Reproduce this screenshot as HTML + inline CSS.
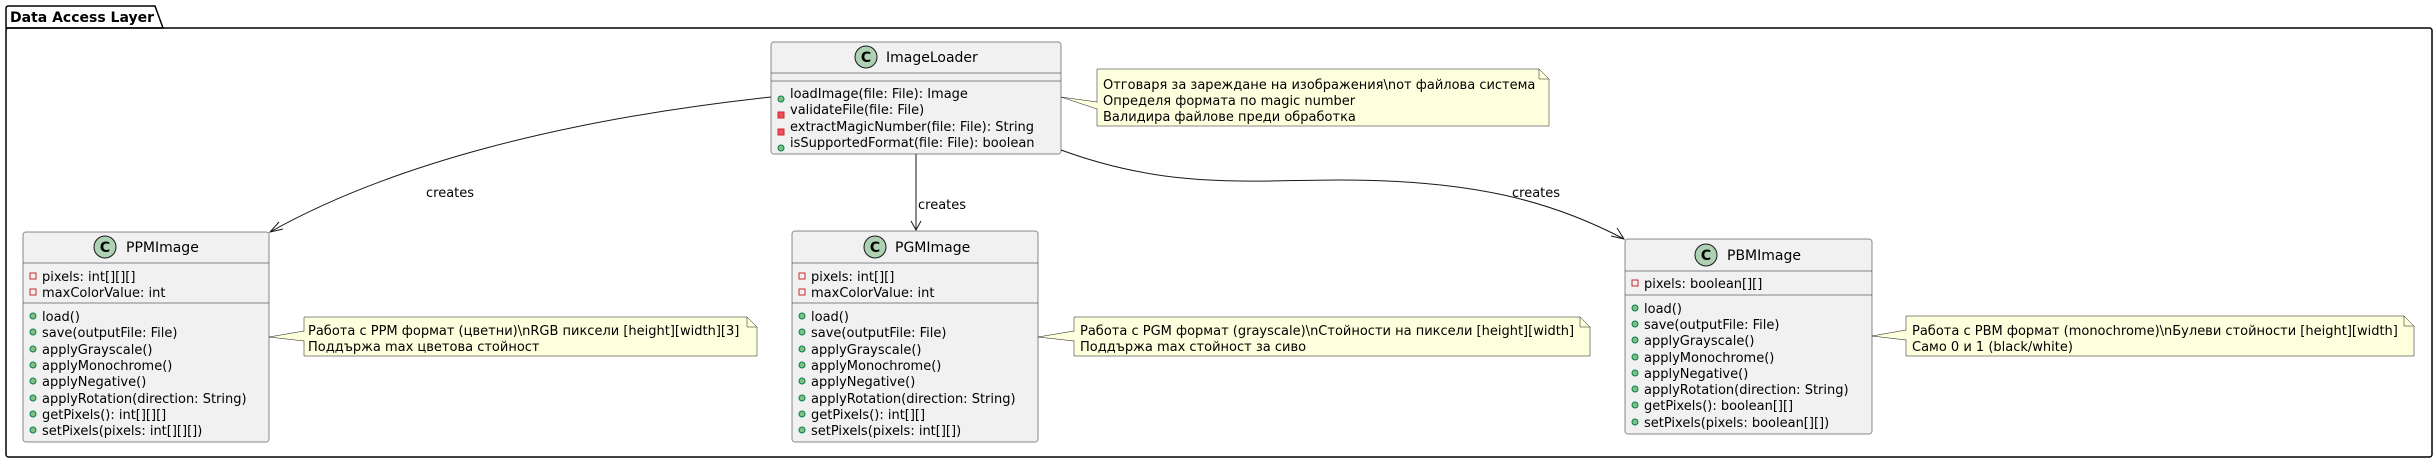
<!DOCTYPE html>
<html><head><meta charset="utf-8"><style>
html,body{margin:0;padding:0;background:#fff;}
svg{display:block;}
text{font-family:"DejaVu Sans","Liberation Sans",sans-serif;font-size:13px;fill:#000;}
.t{font-size:14px;}
</style></head><body>
<svg width="2436" height="464" viewBox="0 0 2436 464" xmlns="http://www.w3.org/2000/svg">
<defs>
<g id="pub"><circle cx="0" cy="0" r="3" fill="#84BE84" stroke="#038048" stroke-width="1"/></g>
<g id="privm"><rect x="-3" y="-3" width="6" height="6" fill="#F24D5C" stroke="#C82930" stroke-width="1"/></g>
<g id="privf"><rect x="-3" y="-3" width="6" height="6" fill="none" stroke="#C82930" stroke-width="1"/></g>
</defs>
<!-- package -->
<path d="M6,28 L6,8.5 Q6,6 8.5,6 L155,6 L163,28 Z" fill="none" stroke="#000" stroke-width="1.5"/>
<rect x="6" y="28" width="2426" height="429" rx="2.5" fill="none" stroke="#000" stroke-width="1.5"/>
<text x="10" y="22" style="font-weight:bold;font-size:14px">Data Access Layer</text>

<!-- connectors -->
<g fill="none" stroke="#181818" stroke-width="1">
<path d="M771,97 C560,120 390,165 270,232"/>
<polyline points="279,222 270,232 283,229"/>
<path d="M916,154 L916,230"/>
<polyline points="911,221 916,230 921,221"/>
<path d="M1061,150 C1170,190 1250,180 1340,180 C1470,180 1550,200 1624,239"/>
<polyline points="1611,236 1624,239 1617,228"/>
</g>
<text x="426" y="197">creates</text>
<text x="918" y="209">creates</text>
<text x="1512" y="197">creates</text>

<!-- ImageLoader -->
<rect x="771" y="42" width="290" height="112" rx="2.5" fill="#F1F1F1" stroke="#181818" stroke-width="0.5"/>
<line x1="771" y1="73" x2="1061" y2="73" stroke="#181818" stroke-width="0.5"/>
<line x1="771" y1="81" x2="1061" y2="81" stroke="#181818" stroke-width="0.5"/>
<circle cx="866" cy="57" r="11" fill="#ADD1B2" stroke="#181818" stroke-width="1"/>
<text x="866" y="62" text-anchor="middle" style="font-weight:bold;font-size:14px">C</text>
<text class="t" x="886" y="62">ImageLoader</text>
<use href="#pub" x="781" y="99"/><text x="790" y="98">loadImage(file: File): Image</text>
<use href="#privm" x="781" y="115"/><text x="790" y="114">validateFile(file: File)</text>
<use href="#privm" x="781" y="132"/><text x="790" y="131">extractMagicNumber(file: File): String</text>
<use href="#pub" x="781" y="148"/><text x="790" y="147">isSupportedFormat(file: File): boolean</text>

<!-- ImageLoader note -->
<polygon points="1061,97 1097,102 1097,109" fill="#FEFFDD" stroke="#181818" stroke-width="0.5"/>
<path d="M1097,69 L1539,69 L1549,79 L1549,126 L1097,126 Z" fill="#FEFFDD" stroke="#181818" stroke-width="0.5"/>
<path d="M1539,69 L1539,79 L1549,79" fill="none" stroke="#181818" stroke-width="0.5"/>
<line x1="1097" y1="102.5" x2="1097" y2="108.5" stroke="#FEFFDD" stroke-width="1.2"/>
<text x="1103" y="89">Отговаря за зареждане на изображения\nот файлова система</text>
<text x="1103" y="105">Определя формата по magic number</text>
<text x="1103" y="121">Валидира файлове преди обработка</text>

<!-- class template blocks -->
<!-- PPMImage -->
<rect x="23" y="232" width="246" height="210" rx="2.5" fill="#F1F1F1" stroke="#181818" stroke-width="0.5"/>
<line x1="23" y1="263" x2="269" y2="263" stroke="#181818" stroke-width="0.5"/>
<line x1="23" y1="303" x2="269" y2="303" stroke="#181818" stroke-width="0.5"/>
<circle cx="105" cy="247" r="11" fill="#ADD1B2" stroke="#181818" stroke-width="1"/>
<text x="105" y="252" text-anchor="middle" style="font-weight:bold;font-size:14px">C</text>
<text class="t" x="126" y="252">PPMImage</text>
<use href="#privf" x="33" y="276"/><text x="42" y="281">pixels: int[][][]</text>
<use href="#privf" x="33" y="292"/><text x="42" y="297">maxColorValue: int</text>
<use href="#pub" x="33" y="316"/><text x="42" y="321">load()</text>
<use href="#pub" x="33" y="332"/><text x="42" y="337">save(outputFile: File)</text>
<use href="#pub" x="33" y="349"/><text x="42" y="354">applyGrayscale()</text>
<use href="#pub" x="33" y="365"/><text x="42" y="370">applyMonochrome()</text>
<use href="#pub" x="33" y="381"/><text x="42" y="386">applyNegative()</text>
<use href="#pub" x="33" y="398"/><text x="42" y="403">applyRotation(direction: String)</text>
<use href="#pub" x="33" y="414"/><text x="42" y="419">getPixels(): int[][][]</text>
<use href="#pub" x="33" y="430"/><text x="42" y="435">setPixels(pixels: int[][][])</text>

<polygon points="269,337 304,331 304,341" fill="#FEFFDD" stroke="#181818" stroke-width="0.5"/>
<path d="M304,317 L747,317 L757,327 L757,356 L304,356 Z" fill="#FEFFDD" stroke="#181818" stroke-width="0.5"/>
<path d="M747,317 L747,327 L757,327" fill="none" stroke="#181818" stroke-width="0.5"/>
<line x1="304" y1="331.5" x2="304" y2="340.5" stroke="#FEFFDD" stroke-width="1.2"/>
<text x="308" y="335">Работа с PPM формат (цветни)\nRGB пиксели [height][width][3]</text>
<text x="308" y="351">Поддържа max цветова стойност</text>

<!-- PGMImage -->
<rect x="792" y="231" width="246" height="211" rx="2.5" fill="#F1F1F1" stroke="#181818" stroke-width="0.5"/>
<line x1="792" y1="263" x2="1038" y2="263" stroke="#181818" stroke-width="0.5"/>
<line x1="792" y1="303" x2="1038" y2="303" stroke="#181818" stroke-width="0.5"/>
<circle cx="875" cy="247" r="11" fill="#ADD1B2" stroke="#181818" stroke-width="1"/>
<text x="875" y="252" text-anchor="middle" style="font-weight:bold;font-size:14px">C</text>
<text class="t" x="895" y="252">PGMImage</text>
<use href="#privf" x="802" y="276"/><text x="811" y="281">pixels: int[][]</text>
<use href="#privf" x="802" y="292"/><text x="811" y="297">maxColorValue: int</text>
<use href="#pub" x="802" y="316"/><text x="811" y="321">load()</text>
<use href="#pub" x="802" y="332"/><text x="811" y="337">save(outputFile: File)</text>
<use href="#pub" x="802" y="349"/><text x="811" y="354">applyGrayscale()</text>
<use href="#pub" x="802" y="365"/><text x="811" y="370">applyMonochrome()</text>
<use href="#pub" x="802" y="381"/><text x="811" y="386">applyNegative()</text>
<use href="#pub" x="802" y="398"/><text x="811" y="403">applyRotation(direction: String)</text>
<use href="#pub" x="802" y="414"/><text x="811" y="419">getPixels(): int[][]</text>
<use href="#pub" x="802" y="430"/><text x="811" y="435">setPixels(pixels: int[][])</text>

<polygon points="1038,337 1074,331 1074,341" fill="#FEFFDD" stroke="#181818" stroke-width="0.5"/>
<path d="M1074,317 L1580,317 L1590,327 L1590,356 L1074,356 Z" fill="#FEFFDD" stroke="#181818" stroke-width="0.5"/>
<path d="M1580,317 L1580,327 L1590,327" fill="none" stroke="#181818" stroke-width="0.5"/>
<line x1="1074" y1="331.5" x2="1074" y2="340.5" stroke="#FEFFDD" stroke-width="1.2"/>
<text x="1080" y="335">Работа с PGM формат (grayscale)\nСтойности на пиксели [height][width]</text>
<text x="1080" y="351">Поддържа max стойност за сиво</text>

<!-- PBMImage -->
<rect x="1625" y="239" width="247" height="195" rx="2.5" fill="#F1F1F1" stroke="#181818" stroke-width="0.5"/>
<line x1="1625" y1="271" x2="1872" y2="271" stroke="#181818" stroke-width="0.5"/>
<line x1="1625" y1="295" x2="1872" y2="295" stroke="#181818" stroke-width="0.5"/>
<circle cx="1706" cy="255" r="11" fill="#ADD1B2" stroke="#181818" stroke-width="1"/>
<text x="1706" y="260" text-anchor="middle" style="font-weight:bold;font-size:14px">C</text>
<text class="t" x="1727" y="260">PBMImage</text>
<use href="#privf" x="1635" y="283"/><text x="1644" y="288">pixels: boolean[][]</text>
<use href="#pub" x="1635" y="308"/><text x="1644" y="313">load()</text>
<use href="#pub" x="1635" y="324"/><text x="1644" y="329">save(outputFile: File)</text>
<use href="#pub" x="1635" y="340"/><text x="1644" y="345">applyGrayscale()</text>
<use href="#pub" x="1635" y="357"/><text x="1644" y="362">applyMonochrome()</text>
<use href="#pub" x="1635" y="373"/><text x="1644" y="378">applyNegative()</text>
<use href="#pub" x="1635" y="389"/><text x="1644" y="394">applyRotation(direction: String)</text>
<use href="#pub" x="1635" y="405"/><text x="1644" y="410">getPixels(): boolean[][]</text>
<use href="#pub" x="1635" y="422"/><text x="1644" y="427">setPixels(pixels: boolean[][])</text>

<polygon points="1872,336 1906,330 1906,340" fill="#FEFFDD" stroke="#181818" stroke-width="0.5"/>
<path d="M1906,316 L2404,316 L2414,326 L2414,356 L1906,356 Z" fill="#FEFFDD" stroke="#181818" stroke-width="0.5"/>
<path d="M2404,316 L2404,326 L2414,326" fill="none" stroke="#181818" stroke-width="0.5"/>
<line x1="1906" y1="330.5" x2="1906" y2="339.5" stroke="#FEFFDD" stroke-width="1.2"/>
<text x="1912" y="335">Работа с PBM формат (monochrome)\nБулеви стойности [height][width]</text>
<text x="1912" y="351">Само 0 и 1 (black/white)</text>
</svg>
</body></html>
